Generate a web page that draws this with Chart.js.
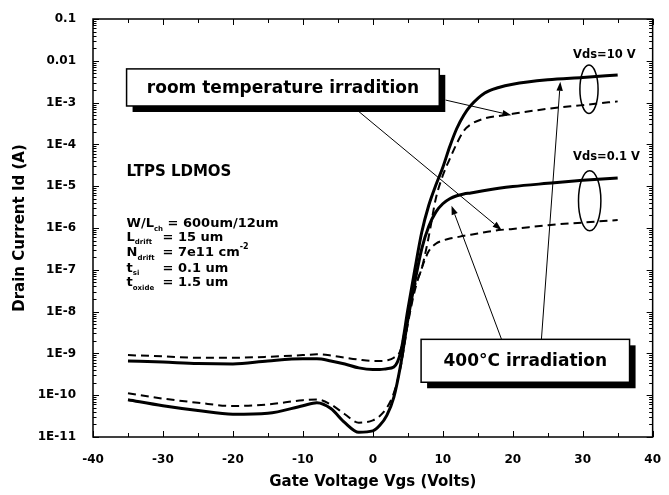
<!DOCTYPE html>
<html>
<head>
<meta charset="utf-8">
<script src="https://cdn.jsdelivr.net/npm/chart.js@4.4.1/dist/chart.umd.min.js"></script>
<style>
  html, body { margin: 0; padding: 0; background: #fff; }
</style>
</head>
<body>
<canvas id="myChart" width="669" height="495"></canvas>
<script>
// Gate voltage grid (V)
const vgs = [-35, -30, -25, -20, -15, -10, -8, -6, -4, -2, 0, 1, 2, 3, 4, 5, 6, 7, 8, 9, 10, 11, 12, 13, 14, 16, 18, 20, 25, 30, 35];

// 400°C irradiation (solid)
const hot10 = [6.6e-10, 6.2e-10, 5.75e-10, 5.6e-10, 6.6e-10, 7.4e-10, 7.4e-10, 6.6e-10, 5.6e-10, 4.5e-10, 4.1e-10, 4.1e-10, 4.3e-10, 4.7e-10, 1.1e-9, 1.1e-8, 1.0e-7, 8e-7, 3.5e-6, 1.05e-5, 2.8e-5, 8.9e-5, 2.4e-4, 5.0e-4, 8.5e-4, 1.7e-3, 2.3e-3, 2.75e-3, 3.5e-3, 4.0e-3, 4.6e-3];
const hot01 = [7.8e-11, 5.6e-11, 4.3e-11, 3.5e-11, 3.7e-11, 5.6e-11, 6.6e-11, 4.8e-11, 2.2e-11, 1.3e-11, 1.4e-11, 1.9e-11, 3.3e-11, 8.9e-11, 5.6e-10, 6.3e-9, 5.0e-8, 3.2e-7, 1.1e-6, 2.4e-6, 3.8e-6, 5.0e-6, 5.9e-6, 6.5e-6, 6.9e-6, 7.9e-6, 8.9e-6, 9.8e-6, 1.17e-5, 1.38e-5, 1.58e-5];

// room temperature irradiation (dashed)
const room10 = [9.1e-10, 8.5e-10, 7.9e-10, 7.9e-10, 8.3e-10, 9.1e-10, 9.5e-10, 8.9e-10, 7.9e-10, 7.1e-10, 6.6e-10, 6.6e-10, 6.8e-10, 7.9e-10, 1.26e-9, 8.9e-9, 4.0e-8, 1.1e-7, 6.3e-7, 5.0e-6, 1.8e-5, 4.5e-5, 1.05e-4, 2.1e-4, 3.0e-4, 4.2e-4, 4.8e-4, 5.4e-4, 7.1e-4, 8.7e-4, 1.07e-3];
const room01 = [1.12e-10, 8.3e-11, 6.6e-11, 5.5e-11, 6.0e-11, 7.6e-11, 7.9e-11, 6.0e-11, 3.5e-11, 2.2e-11, 2.5e-11, 3.2e-11, 5.0e-11, 1.12e-10, 5.0e-10, 5.0e-9, 3.2e-8, 1.1e-7, 2.8e-7, 4.2e-7, 5.0e-7, 5.6e-7, 6.0e-7, 6.5e-7, 6.9e-7, 7.9e-7, 8.9e-7, 9.5e-7, 1.17e-6, 1.35e-6, 1.55e-6];

const xTicks = [-40, -30, -20, -10, 0, 10, 20, 30, 40];
const yTickValues = [1e-11, 1e-10, 1e-9, 1e-8, 1e-7, 1e-6, 1e-5, 1e-4, 1e-3, 0.01, 0.1];
const yTickLabels = ['1E-11', '1E-10', '1E-9', '1E-8', '1E-7', '1E-6', '1E-5', '1E-4', '1E-3', '0.01', '0.1'];

// annotations, in data units
const noteBoxes = [
    { text: 'room temperature irradition', x0: -35.2, x1: 9.5, y0: 6.4e-3, y1: 8.3e-4 },
    { text: '400°C irradiation', x0: 6.9, x1: 36.7, y0: 2.17e-9, y1: 2.04e-10 },
];
const arrows = [
    { from: [10.4, 1.15e-3], to: [19.8, 5.0e-4] },
    { from: [-2.6, 7.4e-4], to: [18.4, 8.95e-7] },
    { from: [18.4, 2.17e-9], to: [11.25, 3.4e-6] },
    { from: [24.1, 2.17e-9], to: [26.8, 3.16e-3] },
];
const ellipses = [
    { x0: 29.6, x1: 32.2, y0: 7.9e-3, y1: 5.5e-4 },
    { x0: 29.4, x1: 32.6, y0: 2.35e-5, y1: 8.6e-7 },
];
const vdsLabels = [
    { text: 'Vds=10 V', x: 33.1, y: 1.38e-2 },
    { text: 'Vds=0.1 V', x: 33.4, y: 5.0e-5 },
];

const FONT = '"DejaVu Sans", Arial, sans-serif';

function series(ys) {
    return vgs.map((x, i) => ({ x: x, y: ys[i] }));
}

const framePlugin = {
    id: 'frame',
    afterDatasetsDraw(chart) {
        const { ctx, chartArea: a, scales: { x, y } } = chart;
        ctx.save();
        ctx.strokeStyle = '#000';
        ctx.lineWidth = 1.5;
        ctx.strokeRect(a.left, a.top, a.right - a.left, a.bottom - a.top);
        ctx.lineWidth = 1;
        ctx.beginPath();
        // x ticks, inward, top and bottom
        for (let v = -40; v <= 40; v += 5) {
            const p = Math.round(x.getPixelForValue(v)) + 0.5;
            const len = v % 10 === 0 ? 6 : 4;
            ctx.moveTo(p, a.bottom); ctx.lineTo(p, a.bottom - len);
            ctx.moveTo(p, a.top); ctx.lineTo(p, a.top + len);
        }
        // y ticks, decades and minors
        for (let e = -11; e <= -1; e++) {
            for (let m = 1; m <= 9; m++) {
                if (e === -1 && m > 1) break;
                const p = Math.round(y.getPixelForValue(m * Math.pow(10, e))) + 0.5;
                const len = m === 1 ? 6 : 3.5;
                ctx.moveTo(a.left, p); ctx.lineTo(a.left + len, p);
                ctx.moveTo(a.right, p); ctx.lineTo(a.right - len, p);
            }
        }
        ctx.stroke();
        ctx.restore();
    }
};

function drawArrow(ctx, x1, y1, x2, y2) {
    const ang = Math.atan2(y2 - y1, x2 - x1);
    const hl = 9, hw = 3.2;
    ctx.beginPath();
    ctx.moveTo(x1, y1);
    ctx.lineTo(x2 - hl * Math.cos(ang), y2 - hl * Math.sin(ang));
    ctx.stroke();
    ctx.beginPath();
    ctx.moveTo(x2, y2);
    ctx.lineTo(x2 - hl * Math.cos(ang) + hw * Math.sin(ang), y2 - hl * Math.sin(ang) - hw * Math.cos(ang));
    ctx.lineTo(x2 - hl * Math.cos(ang) - hw * Math.sin(ang), y2 - hl * Math.sin(ang) + hw * Math.cos(ang));
    ctx.closePath();
    ctx.fill();
}

// draw a line made of [text, kind] pieces; kind: n normal, b subscript, p superscript
function drawRich(ctx, x, y, parts) {
    let cx = x;
    parts.forEach(([t, k]) => {
        if (k === 'b') {
            ctx.font = 'bold 7px ' + FONT;
            ctx.fillText(t, cx, y + 5);
        } else if (k === 'p') {
            ctx.font = 'bold 8px ' + FONT;
            ctx.fillText(t, cx, y - 6);
        } else if (k === 'col') {
            cx = x + t;
            return;
        } else {
            ctx.font = 'bold 13px ' + FONT;
            ctx.fillText(t, cx, y);
        }
        cx += ctx.measureText(t).width;
    });
}

const notesPlugin = {
    id: 'notes',
    afterDatasetsDraw(chart) {
        const { ctx, scales: { x, y } } = chart;
        const X = v => x.getPixelForValue(v);
        const Y = v => y.getPixelForValue(v);
        ctx.save();
        ctx.fillStyle = '#000';
        ctx.strokeStyle = '#000';

        // arrows
        ctx.lineWidth = 1;
        arrows.forEach(a => drawArrow(ctx, X(a.from[0]), Y(a.from[1]), X(a.to[0]), Y(a.to[1])));

        // ellipses
        ctx.lineWidth = 1.5;
        ellipses.forEach(e => {
            const cx = (X(e.x0) + X(e.x1)) / 2, cy = (Y(e.y0) + Y(e.y1)) / 2;
            ctx.beginPath();
            ctx.ellipse(cx, cy, Math.abs(X(e.x1) - X(e.x0)) / 2, Math.abs(Y(e.y1) - Y(e.y0)) / 2, 0, 0, Math.PI * 2);
            ctx.stroke();
        });

        // boxes with shadow
        noteBoxes.forEach(b => {
            const l = X(b.x0), r = X(b.x1), t = Y(b.y0), btm = Y(b.y1);
            ctx.fillStyle = '#000';
            ctx.fillRect(l + 6, t + 6, r - l, btm - t);
            ctx.fillStyle = '#fff';
            ctx.fillRect(l, t, r - l, btm - t);
            ctx.lineWidth = 1.5;
            ctx.strokeRect(l, t, r - l, btm - t);
            ctx.fillStyle = '#000';
            ctx.font = 'bold 17px ' + FONT;
            ctx.textAlign = 'center';
            ctx.textBaseline = 'middle';
            ctx.fillText(b.text, (l + r) / 2, (t + btm) / 2 + 1);
        });

        // Vds labels
        ctx.font = 'bold 11.5px ' + FONT;
        vdsLabels.forEach(v => ctx.fillText(v.text, X(v.x), Y(v.y)));

        // device parameters
        ctx.textAlign = 'left';
        ctx.textBaseline = 'middle';
        const lx = X(-35.2);
        ctx.font = 'bold 15px ' + FONT;
        ctx.fillText('LTPS LDMOS', lx, Y(2.2e-5));
        drawRich(ctx, lx, Y(1.25e-6), [['W/L', 'n'], ['ch', 'b'], [' = 600um/12um', 'n']]);
        drawRich(ctx, lx, Y(5.9e-7), [['L', 'n'], ['drift', 'b'], [36, 'col'], ['= 15 um', 'n']]);
        drawRich(ctx, lx, Y(2.56e-7), [['N', 'n'], ['drift', 'b'], [36, 'col'], ['= 7e11 cm', 'n'], ['-2', 'p']]);
        drawRich(ctx, lx, Y(1.09e-7), [['t', 'n'], ['si', 'b'], [36, 'col'], ['= 0.1 um', 'n']]);
        drawRich(ctx, lx, Y(4.9e-8), [['t', 'n'], ['oxide', 'b'], [36, 'col'], ['= 1.5 um', 'n']]);
        ctx.restore();
    }
};

const ctx = document.getElementById('myChart').getContext('2d');
new Chart(ctx, {
    type: 'line',
    data: {
        datasets: [
            { label: '400C Vds=10V', data: series(hot10), borderWidth: 3 },
            { label: '400C Vds=0.1V', data: series(hot01), borderWidth: 3 },
            { label: 'RT Vds=10V', data: series(room10), borderWidth: 2, borderDash: [8, 5] },
            { label: 'RT Vds=0.1V', data: series(room01), borderWidth: 2, borderDash: [8, 5] },
        ].map(d => Object.assign(d, {
            borderColor: '#000',
            backgroundColor: '#000',
            pointRadius: 0,
            fill: false,
            cubicInterpolationMode: 'monotone',
        })),
    },
    options: {
        responsive: false,
        animation: false,
        devicePixelRatio: 1,
        layout: { padding: { top: 19, right: 7, left: 0, bottom: 0 } },
        plugins: { legend: { display: false }, tooltip: { enabled: false } },
        scales: {
            x: {
                type: 'linear',
                min: -40, max: 40,
                afterBuildTicks: s => { s.ticks = xTicks.map(v => ({ value: v })); },
                afterFit: s => { s.height = 58; },
                grid: { display: false },
                border: { display: false },
                ticks: { color: '#000', font: { family: FONT, size: 12, weight: 'bold' }, padding: 8, autoSkip: false, maxRotation: 0 },
                title: { display: true, text: 'Gate Voltage Vgs (Volts)', color: '#000', font: { family: FONT, size: 15, weight: 'bold' }, padding: { top: 0, bottom: 4 } },
            },
            y: {
                type: 'logarithmic',
                min: 1e-11, max: 0.1,
                afterBuildTicks: s => { s.ticks = yTickValues.map(v => ({ value: v })); },
                afterFit: s => { s.width = 93; },
                grid: { display: false },
                border: { display: false },
                ticks: { color: '#000', font: { family: FONT, size: 12, weight: 'bold' }, padding: 9, callback: (v, i) => yTickLabels[i] },
                title: { display: true, text: 'Drain Current Id (A)', color: '#000', font: { family: FONT, size: 15, weight: 'bold' }, padding: { top: 11, bottom: 0 } },
            },
        },
    },
    plugins: [framePlugin, notesPlugin],
});
</script>
</body>
</html>
